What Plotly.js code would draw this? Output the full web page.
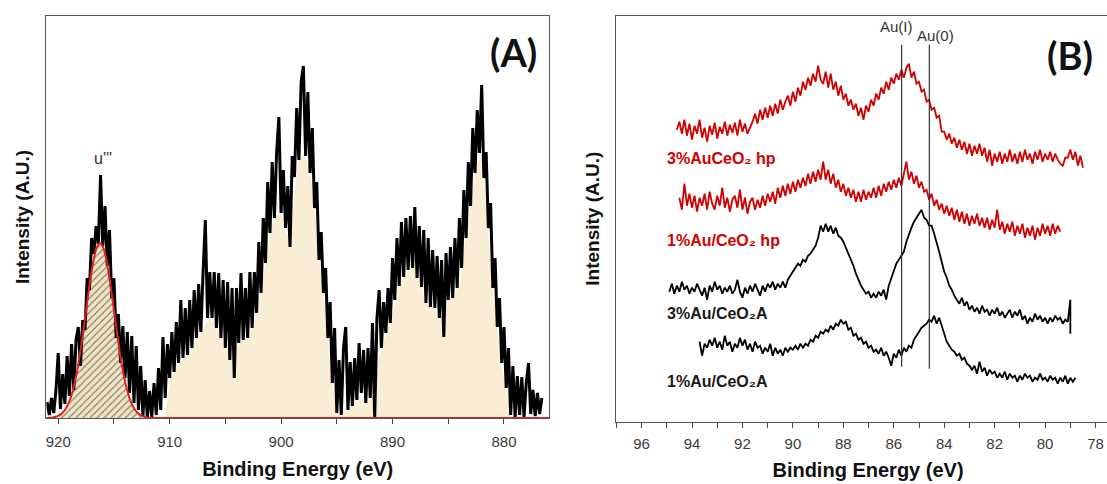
<!DOCTYPE html>
<html>
<head>
<meta charset="utf-8">
<script src="https://cdn.plot.ly/plotly-3.0.1.min.js"></script>
<style>
  html, body { margin: 0; padding: 0; overflow: hidden; background: #fff; }
  #chart { width: 1120px; height: 484px; }
</style>
</head>
<body>
<div id="chart"></div>
<script>
// ---------- Panel A : Ce 3d spectrum (binding energy, eV; intensity a.u.) ----------
const ceStart = 921.0, ceStep = 0.2;
const ceIntensity = [
  16,3,20,5,28,65,9,44,14,62,
  22,74,28,78,91,52,98,88,140,128,
  180,164,192,174,243,172,212,152,188,120,
  140,80,104,55,92,40,86,25,82,15,
  72,8,52,2,38,0,27,1,35,3,
  50,8,81,20,74,40,86,46,96,55,
  118,60,110,63,118,70,128,80,134,86,
  146,198,100,146,100,146,90,145,80,138,
  70,136,58,130,40,130,75,145,78,130,
  80,146,90,146,105,176,125,200,155,236,
  185,256,200,266,301,205,248,190,232,171,
  262,241,310,258,336,352,262,326,245,290,
  210,236,158,186,125,150,80,116,35,90,
  5,58,3,70,91,8,56,12,60,18,
  75,25,68,15,70,20,95,0,100,128,
  70,116,85,130,95,160,118,180,132,196,
  141,200,148,202,150,211,140,192,131,188,
  115,180,111,168,110,162,100,158,81,165,
  118,171,120,180,130,200,150,228,180,256,
  212,290,245,308,265,333,240,266,190,215,
  130,160,91,120,55,91,30,70,3,52,
  1,42,3,41,1,35,55,4,28,2,
  25,4,20
];
// envelope of the shaded (beige) region
const envE = [910.4,910,909.5,909,908.5,908,907.5,907,906.5,906,905.5,905,904.5,904,903.5,903,902.5,902,901.5,901,900.5,900,899.5,899,898.5,898,897.5,897,896.5,896,895.5,895,894.5,894,893.5,893,892.5,892,891.5,891,890.5,890,889.5,889,888.5,888,887.5,887,886.5,886,885.5,885,884.5,884,883.5,883,882.5,882,881.5,881,880.5,880,879.5,879.5];
const envH = [0,38,48,56,62,70,82,90,100,95,84,70,58,70,78,80,92,115,148,185,202,205,182,200,254,265,252,210,150,105,45,5,4,8,14,22,16,20,48,70,86,105,128,141,149,150,133,115,111,105,100,118,122,135,172,212,252,262,205,130,80,41,20,0];
// u''' fitted component (and its zero baseline)
const fitE = [921.2,921,920.75,920.5,920.25,920,919.75,919.5,919.25,919,918.75,918.5,918.25,918,917.75,917.5,917.25,917,916.75,916.5,916.25,916,915.75,915.5,915.25,915,914.75,914.5,914.25,914,913.75,913.5,913.25,913,912.75,912.5,912.25,912,911.75,911.5,875.8];
const fitH = [0,0.1,0.3,0.6,1.2,2.2,3.9,6.6,10.7,16.8,25.2,36.4,50.6,67.7,87.1,107.8,128.3,147,161.9,171.6,175,171.6,161.9,147,128.3,107.8,87.1,67.7,50.6,36.4,25.2,16.8,10.7,6.6,3.9,2.2,1.2,0.6,0.3,0.1,0];

// ---------- Panel B : Au 4f spectra ----------
const auStep = 0.1;
const hp3Start = 94.6;
const hp3 = [
  292,300,288,302,286,298,282,296,288,302,
  284,294,280,296,287,299,283,295,288,300,
  286,297,289,299,286,302,290,298,288,294,
  300,308,298,312,302,314,304,316,306,318,
  308,322,312,320,326,316,330,320,334,326,
  340,332,344,336,348,340,356,342,338,350,
  334,348,332,340,326,336,322,328,316,322,
  312,318,306,314,302,316,310,322,316,328,
  322,334,328,340,332,344,338,348,342,352,
  344,354,358,344,350,338,340,330,332,320,
  322,312,314,304,306,290,290,282,288,278,
  284,274,282,272,280,268,278,266,276,268,
  278,266,274,260,272,256,268,260,270,258,
  268,260,272,260,268,258,270,260,272,262,
  268,258,270,262,272,260,268,262,270,260,
  268,262,258,256,264,264,272,262,270,256,
  266,254
];
const hp1Start = 94.5;
const hp1 = [
  224,212,238,216,228,214,226,210,224,216,
  228,212,230,218,212,226,216,234,214,224,
  210,222,226,214,232,212,224,208,220,224,
  212,222,214,226,216,228,220,230,218,234,
  224,236,226,238,228,240,230,242,234,244,
  236,248,238,250,240,252,242,260,242,252,
  238,248,234,242,230,238,226,234,224,232,
  220,230,220,232,222,230,224,234,224,236,
  226,238,230,240,232,242,234,244,236,248,
  260,242,250,238,246,234,240,230,232,222,
  228,216,222,212,218,208,216,206,214,202,
  212,200,210,198,208,196,206,198,208,196,
  204,194,204,192,202,194,212,192,200,188,
  198,190,200,186,196,188,198,184,194,186,
  196,182,194,186,198,188,196,186,198,188,
  196,190
];
const a3Start = 94.9;
const a3 = [
  130,138,128,136,130,140,132,136,128,134,
  130,138,132,126,134,122,136,130,140,132,
  136,128,134,130,136,128,132,142,130,124,
  134,128,136,130,138,132,126,136,130,138,
  134,140,132,138,134,140,134,142,146,150,
  154,158,156,162,160,166,168,172,176,184,
  196,190,198,190,196,188,194,186,184,180,
  174,168,162,156,148,142,136,132,128,130,
  124,128,124,130,126,132,122,136,144,150,
  158,162,166,170,180,188,194,200,204,208,
  212,204,202,196,196,188,180,170,160,150,
  144,136,132,126,122,118,124,116,120,112,
  116,110,114,108,116,110,112,106,112,108,
  114,106,110,104,108,112,104,110,106,112,
  102,106,98,104,100,108,102,106,100,104,
  98,104,100,106,102,104,98,102,100,122
];
const a3EndE = 79.0, a3EndH = 88;
const a1Start = 93.7;
const a1 = [
  80,66,78,74,82,76,84,74,80,72,
  86,76,80,70,78,74,84,76,82,72,
  78,70,80,74,76,68,74,70,78,66,
  74,68,72,66,74,70,74,72,76,72,
  78,74,78,76,82,80,86,84,90,88,
  92,90,96,92,98,96,102,98,100,92,
  94,86,88,82,84,78,80,74,76,70,
  72,68,74,66,70,64,56,68,64,72,
  66,74,70,76,74,82,86,90,94,96,
  98,102,100,106,98,104,96,86,80,76,
  72,70,66,68,62,64,58,56,52,56,
  48,60,50,54,46,52,48,50,44,48,
  44,50,42,48,44,46,40,46,42,48,
  44,46,40,44,42,48,42,44,40,46,
  42,44,38,44,40,46,38,44,40,44
];
const auILine = 85.69, au0Line = 84.59;
const refLineLow = 55, refLineHigh = 377;

const sampleLabels = ['<b>3%AuCeO₂ hp</b>', '<b>1%Au/CeO₂ hp</b>', '<b>3%Au/CeO₂A</b>', '<b>1%Au/CeO₂A</b>'];

function energies(start, step, n) {
  return Array.from({length: n}, (_, i) => +(start - i * step).toFixed(3));
}

const W = 1120, H = 484;
const RED = '#d20000';

const traces = [
  { x: envE, y: envH, xaxis: 'x', yaxis: 'y', mode: 'lines', fill: 'tozeroy',
    fillcolor: '#faedd6', line: {width: 0, color: '#faedd6'}, hoverinfo: 'skip' },
  { x: fitE, y: fitH, xaxis: 'x', yaxis: 'y', mode: 'lines', fill: 'tozeroy',
    fillcolor: '#efe4c8', line: {width: 0, shape: 'spline', color: '#efe4c8'},
    fillpattern: {shape: '/', bgcolor: '#efe4c8', fgcolor: '#8a7d5e', size: 5, solidity: 0.22},
    hoverinfo: 'skip' },
  { x: energies(ceStart, ceStep, ceIntensity.length), y: ceIntensity, xaxis: 'x', yaxis: 'y',
    mode: 'lines', line: {color: '#000', width: 3} },
  { x: fitE, y: fitH, xaxis: 'x', yaxis: 'y', mode: 'lines',
    line: {color: '#e02020', width: 2, shape: 'spline'} },

  { x: energies(hp3Start, auStep, hp3.length), y: hp3, xaxis: 'x2', yaxis: 'y2', mode: 'lines',
    line: {color: RED, width: 1.8} },
  { x: energies(hp1Start, auStep, hp1.length), y: hp1, xaxis: 'x2', yaxis: 'y2', mode: 'lines',
    line: {color: RED, width: 1.8} },
  { x: energies(a3Start, auStep, a3.length).concat([a3EndE]), y: a3.concat([a3EndH]), xaxis: 'x2', yaxis: 'y2', mode: 'lines',
    line: {color: '#000', width: 1.8} },
  { x: energies(a1Start, auStep, a1.length), y: a1, xaxis: 'x2', yaxis: 'y2', mode: 'lines',
    line: {color: '#000', width: 1.8} }
];

const axisCommon = {
  showline: true, linecolor: '#555', linewidth: 1, mirror: true,
  showgrid: false, zeroline: false, automargin: false, layer: 'below traces'
};
const xTitle = {text: '<b>Binding Energy (eV)</b>', font: {size: 20, color: '#111'}, standoff: 12};
const yTitle = {text: '<b>Intensity (A.U.)</b>', font: {size: 19, color: '#111'}, standoff: 10};

const layout = {
  width: W, height: H,
  margin: {l: 0, r: 0, t: 0, b: 0},
  paper_bgcolor: '#fff', plot_bgcolor: '#fff',
  showlegend: false,
  font: {family: 'Liberation Sans, Arial, sans-serif', color: '#333'},
  xaxis: Object.assign({}, axisCommon, {
    domain: [46.4 / W, 549 / W], range: [921.06, 875.96], anchor: 'y',
    tick0: 880, dtick: 10, ticks: 'outside', ticklen: 5, tickcolor: '#444',
    ticklabelstandoff: 5,
    tickfont: {size: 15, color: '#3c3c3c'},
    minor: {tick0: 880, dtick: 5, ticks: 'outside', ticklen: 5, tickcolor: '#444'},
    title: xTitle
  }),
  yaxis: Object.assign({}, axisCommon, {
    domain: [(H - 418) / H, (H - 16) / H], range: [0, 402], anchor: 'x',
    showticklabels: false, ticks: '',
    title: yTitle
  }),
  xaxis2: Object.assign({}, axisCommon, {
    domain: [616 / W, 1], range: [97.013, 77.031], anchor: 'y2',
    tick0: 78, dtick: 2, ticks: 'outside', ticklen: 5, tickcolor: '#444',
    ticklabelstandoff: 3,
    tickfont: {size: 15, color: '#3c3c3c'},
    minor: {tick0: 78, dtick: 1, ticks: 'outside', ticklen: 5, tickcolor: '#444'},
    title: xTitle
  }),
  yaxis2: Object.assign({}, axisCommon, {
    domain: [(H - 421.7) / H, (H - 15.7) / H], range: [0, 406], anchor: 'x2',
    showticklabels: false, ticks: '',
    title: yTitle
  }),
  shapes: [
    {type: 'line', xref: 'x2', yref: 'y2', x0: auILine, x1: auILine, y0: refLineLow, y1: refLineHigh,
     line: {color: '#333', width: 1.2}},
    {type: 'line', xref: 'x2', yref: 'y2', x0: au0Line, x1: au0Line, y0: refLineLow - 2, y1: refLineHigh,
     line: {color: '#333', width: 1.2}}
  ],
  annotations: [
    {xref: 'paper', yref: 'paper', x: 513 / W, y: (H - 52) / H, text: '<b>(A)</b>',
     showarrow: false, xanchor: 'center', yanchor: 'middle', font: {family: 'Lato, sans-serif', size: 38, color: '#111'}},
    {xref: 'paper', yref: 'paper', x: 1070 / W, y: (H - 55) / H, text: '<b>(B)</b>',
     showarrow: false, xanchor: 'center', yanchor: 'middle', font: {family: 'Lato, sans-serif', size: 38, color: '#111'}},
    {xref: 'x', yref: 'y', x: 916.0, y: 260, text: "u'''",
     showarrow: false, xanchor: 'center', yanchor: 'middle', font: {size: 16, color: '#333'}},
    {xref: 'paper', yref: 'paper', x: 896 / W, y: (H - 27) / H, text: 'Au(I)',
     showarrow: false, xanchor: 'center', yanchor: 'middle', font: {size: 15, color: '#333'}},
    {xref: 'paper', yref: 'paper', x: 935 / W, y: (H - 36) / H, text: 'Au(0)',
     showarrow: false, xanchor: 'center', yanchor: 'middle', font: {size: 15, color: '#333'}},
    {xref: 'paper', yref: 'paper', x: 665 / W, y: (H - 158) / H, text: sampleLabels[0],
     showarrow: false, xanchor: 'left', yanchor: 'middle', font: {size: 16, color: RED}},
    {xref: 'paper', yref: 'paper', x: 665 / W, y: (H - 241) / H, text: sampleLabels[1],
     showarrow: false, xanchor: 'left', yanchor: 'middle', font: {size: 16, color: RED}},
    {xref: 'paper', yref: 'paper', x: 665 / W, y: (H - 313) / H, text: sampleLabels[2],
     showarrow: false, xanchor: 'left', yanchor: 'middle', font: {size: 16, color: '#1a1a1a'}},
    {xref: 'paper', yref: 'paper', x: 665 / W, y: (H - 381) / H, text: sampleLabels[3],
     showarrow: false, xanchor: 'left', yanchor: 'middle', font: {size: 16, color: '#1a1a1a'}}
  ]
};

Plotly.newPlot('chart', traces, layout, {displayModeBar: false, staticPlot: true});
</script>
</body>
</html>
